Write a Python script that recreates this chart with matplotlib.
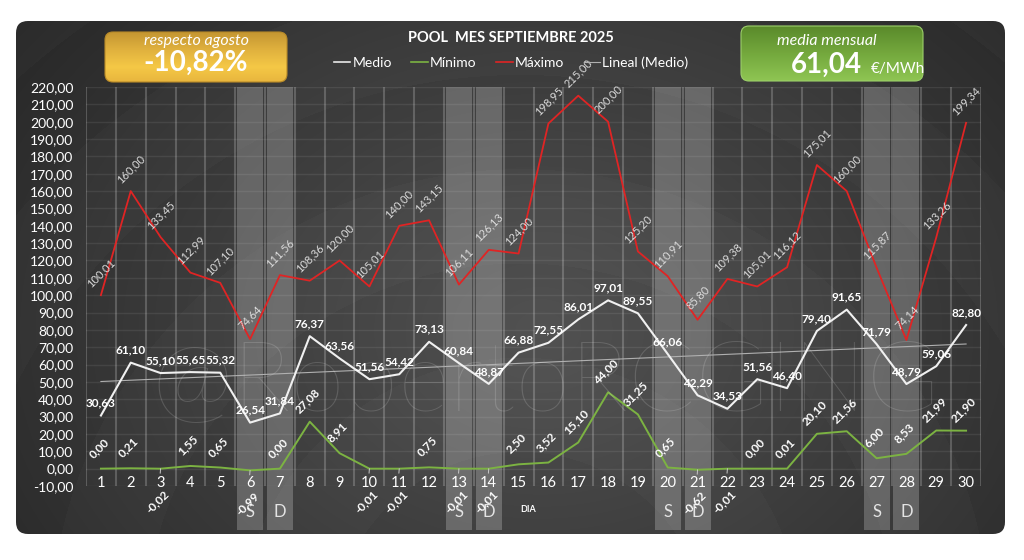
import numpy as np
import matplotlib.pyplot as plt
from matplotlib.patches import FancyBboxPatch
from matplotlib.lines import Line2D
from matplotlib.colors import to_rgb

plt.rcParams['font.family'] = ['Lato', 'DejaVu Sans']

# ---------------- data ----------------
dias = list(range(1, 31))

medio = [30.63, 61.10, 55.10, 55.65, 55.32, 26.54, 31.84, 76.37, 63.56, 51.56,
         54.42, 73.13, 60.84, 48.87, 66.88, 72.55, 86.01, 97.01, 89.55, 66.06,
         42.29, 34.53, 51.56, 46.40, 79.40, 91.65, 71.79, 48.79, 59.06, 82.80]

minimo = [0.00, 0.21, -0.02, 1.55, 0.65, -0.99, 0.00, 27.08, 8.91, -0.01,
          -0.01, 0.75, -0.01, -0.01, 2.50, 3.52, 15.10, 44.00, 31.25, 0.65,
          -0.62, -0.01, 0.00, 0.01, 20.10, 21.56, 6.00, 8.53, 21.99, 21.90]

maximo = [100.01, 160.00, 133.45, 112.99, 107.10, 74.64, 111.56, 108.36, 120.00, 105.01,
          140.00, 143.15, 106.11, 126.13, 124.00, 198.95, 215.00, 200.00, 125.20, 110.91,
          85.80, 109.38, 105.01, 116.12, 175.01, 160.00, 115.87, 74.14, 133.26, 199.34]

fin_semana = [6, 7, 13, 14, 20, 21, 27, 28]
fin_semana_txt = ['S', 'D', 'S', 'D', 'S', 'D', 'S', 'D']
y_ticks = list(range(-10, 221, 10))

titulo = 'POOL  MES SEPTIEMBRE 2025'
respecto_txt = 'respecto agosto'
respecto_val = '-10,82%'
media_txt = 'media mensual'
media_val = '61,04'
media_unit = '€/MWh'
marca = '@RobertoRCGING'


def fmt(v):
    return f'{v:.2f}'.replace('.', ',')


def vgrad(stops, n=120):
    pos = [p for p, _ in stops]
    cols = np.array([to_rgb(c) for _, c in stops])
    t = np.linspace(0, 1, n)
    img = np.stack([np.interp(t, pos, cols[:, k]) for k in range(3)], axis=1)
    return img[:, None, :]


W, H = 1024, 560
fig = plt.figure(figsize=(W / 100, H / 100), dpi=100)
fig.patch.set_facecolor('white')

# ---------------- background panel ----------------
bg = fig.add_axes([0, 0, 1, 1])

yy, xx = np.mgrid[0:H, 0:W]
dist = np.hypot(xx - 540, (yy - 330) * 1.3)
val = 0.32 - 0.00025 * dist
ring = np.hypot(xx - 520, yy - 640)
val += 0.014 * (np.sin(ring / 30.0) > 0)
val = np.clip(val, 0.1, 0.5)
img = np.dstack([val, val, val])

panel = FancyBboxPatch((16, 21), 989, 513, boxstyle='round,pad=0,rounding_size=12',
                       facecolor='none', edgecolor='none')
bg.add_patch(panel)
im = bg.imshow(img, extent=(0, W, H, 0), aspect='auto', interpolation='bilinear')
im.set_clip_path(panel)

# yellow box
ybox = FancyBboxPatch((105, 32), 182, 50, boxstyle='round,pad=0,rounding_size=8',
                      facecolor='none', edgecolor='#b88a28', lw=0.8, zorder=3)
bg.add_patch(ybox)
yim = bg.imshow(vgrad([(0, '#c49632'), (0.35, '#e0b13e'), (0.7, '#f5c846'), (1, '#e8b63e')]),
                extent=(105, 287, 82, 32), aspect='auto', zorder=2)
yim.set_clip_path(ybox)

# green box
gbox = FancyBboxPatch((741, 26), 182, 55, boxstyle='round,pad=0,rounding_size=8',
                      facecolor='none', edgecolor='#9ccf6a', lw=0.8, zorder=3)
bg.add_patch(gbox)
gim = bg.imshow(vgrad([(0, '#5a8a2b'), (0.5, '#74a83d'), (1, '#8fc553')]),
                extent=(741, 923, 81, 26), aspect='auto', zorder=2)
gim.set_clip_path(gbox)

bg.set_xlim(0, W)
bg.set_ylim(H, 0)
bg.axis('off')

# watermark behind the chart
fig.text(546 / W, 1 - 410 / H, marca, fontsize=71, color='white', alpha=0.15,
         ha='center', va='baseline', fontweight='light', zorder=0)

# ---------------- main chart ----------------
ax = fig.add_axes([86 / W, 1 - 486 / H, 895 / W, 399 / H])
ax.patch.set_alpha(0)
ax.set_xlim(0.5, 30.5)
ax.set_ylim(-10, 220)
for s in ax.spines.values():
    s.set_visible(False)

ax.bar(fin_semana, 255.4, bottom=-35.4, width=0.87, color='white', alpha=0.22,
       clip_on=False, zorder=1)

for x in np.arange(0.5, 31, 1):
    ax.plot([x, x], [-10, 220], color='white', alpha=0.2, lw=1.5, zorder=1)
for y in y_ticks:
    ax.axhline(y, color='white', alpha=0.08, lw=1, zorder=1)

coef = np.polyfit(dias, medio, 1)
lineal = np.polyval(coef, dias)

ax.plot(dias, maximo, color='#e02424', lw=1.3, zorder=3)
ax.plot(dias, minimo, color='#7cb342', lw=1.4, zorder=3)
ax.plot(dias, lineal, color='#b0b0b0', lw=0.8, zorder=3)
ax.plot(dias, medio, color='#f0f0f0', lw=1.5, zorder=4)

for d, v in zip(dias, medio):
    ax.annotate(fmt(v), (d, v), xytext=(0, 9), textcoords='offset points',
                ha='center', va='center', fontsize=8.5, fontweight='bold',
                color='white', zorder=6)

for d, v in zip(dias, maximo):
    ax.annotate(fmt(v), (d, v), xytext=(0, 16), textcoords='offset points',
                ha='center', va='center', fontsize=8, rotation=45,
                color='#dcdcdc', zorder=6)

for d, v in zip(dias, minimo):
    if v >= 0:
        ax.annotate(fmt(v), (d, v), xytext=(-1.5, 15), textcoords='offset points',
                    ha='center', va='center', fontsize=8.5, fontweight='bold',
                    rotation=45, color='white', zorder=6)
    else:
        ax.annotate(fmt(v), (d, v), xytext=(-2, -24), textcoords='offset points',
                    ha='center', va='center', fontsize=8.5, fontweight='bold',
                    rotation=45, color='white', zorder=6, annotation_clip=False,
                    arrowprops=dict(arrowstyle='-', color='#c8c8c8', lw=0.7,
                                    shrinkA=9, shrinkB=0))

for d in dias:
    ax.text(d, -8, str(d), ha='center', va='center', fontsize=10.5, color='white')

for d, t in zip(fin_semana, fin_semana_txt):
    ax.text(d, -25, t, ha='center', va='center', fontsize=12, color='#e4e4e4',
            clip_on=False)

ax.set_xticks([])
ax.set_yticks(y_ticks)
ax.set_yticklabels([fmt(v) for v in y_ticks])
ax.tick_params(axis='y', length=0, pad=9, labelcolor='white', labelsize=10)

# ---------------- texts ----------------
fig.text(528 / W, 1 - 509 / H, 'DIA', fontsize=6.5, fontweight='bold', color='white',
         ha='center', va='center')

fig.text(511 / W, 1 - 38 / H, titulo, ha='center', va='center', fontsize=10.5,
         fontweight='bold', color='white')

handles = [Line2D([], [], color='#e8e8e8', lw=1.2),
           Line2D([], [], color='#7cb342', lw=1.2),
           Line2D([], [], color='#e02424', lw=1.2),
           Line2D([], [], color='#b0b0b0', lw=0.8)]
fig.legend(handles, ['Medio', 'Mínimo', 'Máximo', 'Lineal (Medio)'], loc='center',
           bbox_to_anchor=(511 / W, 1 - 63 / H), ncol=4, frameon=False, fontsize=10,
           labelcolor='white', handlelength=1.2, handletextpad=0.15, columnspacing=1.4)

fig.text(196 / W, 1 - 41 / H, respecto_txt, ha='center', va='center', fontsize=11.5,
         fontstyle='italic', color='white')
fig.text(196 / W, 1 - 63 / H, respecto_val, ha='center', va='center', fontsize=20,
         fontweight='bold', color='white')

fig.text(827 / W, 1 - 41 / H, media_txt, ha='center', va='center', fontsize=11.5,
         fontstyle='italic', color='white')
fig.text(862 / W, 1 - 73 / H, media_val, ha='right', va='baseline', fontsize=20,
         fontweight='bold', color='white')
fig.text(871 / W, 1 - 73 / H, media_unit, ha='left', va='baseline', fontsize=11,
         color='white')

fig.savefig('out.png', dpi=100, facecolor='white')
